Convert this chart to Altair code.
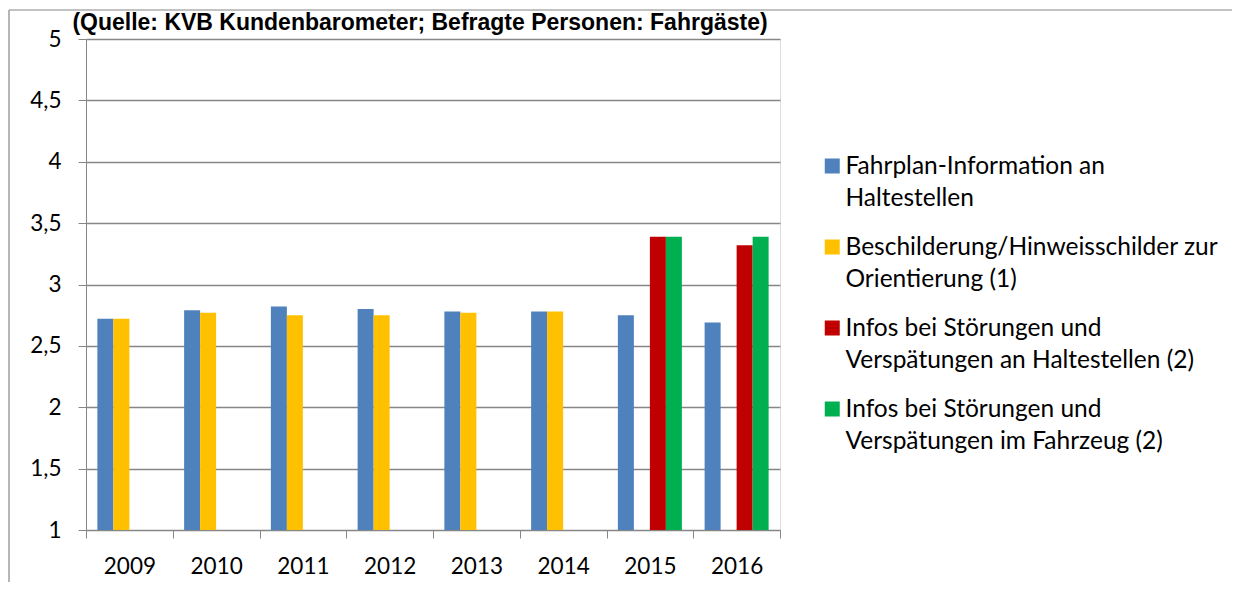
import altair as alt
import pandas as pd

YEARS = ["2009", "2010", "2011", "2012", "2013", "2014", "2015", "2016"]
SERIES = [
    "Fahrplan-Information an Haltestellen",
    "Beschilderung/Hinweisschilder zur Orientierung (1)",
    "Infos bei Störungen und Verspätungen an Haltestellen (2)",
    "Infos bei Störungen und Verspätungen im Fahrzeug (2)",
]
LEGEND_LINES = [
    ["Fahrplan-Information an", "Haltestellen"],
    ["Beschilderung/Hinweisschilder zur", "Orientierung (1)"],
    ["Infos bei Störungen und", "Verspätungen an Haltestellen (2)"],
    ["Infos bei Störungen und", "Verspätungen im Fahrzeug (2)"],
]
COLORS = ["#4F81BD", "#FFC000", "#C00000", "#00B050"]

FAHRPLAN = [2.72, 2.79, 2.82, 2.80, 2.78, 2.78, 2.75, 2.69]
BESCHILDERUNG = [2.72, 2.77, 2.75, 2.75, 2.77, 2.78, None, None]
STOERUNG_HALT = [None, None, None, None, None, None, 3.39, 3.32]
STOERUNG_FAHRZEUG = [None, None, None, None, None, None, 3.39, 3.39]

Y_TICKS = [1, 1.5, 2, 2.5, 3, 3.5, 4, 4.5, 5]
TITLE = "(Quelle: KVB Kundenbarometer; Befragte Personen: Fahrgäste)"

rows = []
for s, vals in zip(SERIES, [FAHRPLAN, BESCHILDERUNG, STOERUNG_HALT, STOERUNG_FAHRZEUG]):
    for y, v in zip(YEARS, vals):
        if v is not None:
            rows.append({"Jahr": y, "Reihe": s, "Wert": v})
df = pd.DataFrame(rows)

def q(t):
    return "'" + t.replace("'", "\\'") + "'"

label_expr = ""
for s, lines in zip(SERIES, LEGEND_LINES):
    label_expr += f"datum.label == {q(s)} ? [{', '.join(q(l) for l in lines)}] : "
label_expr += "datum.label"

GRID = "#868686"
FONT = "Lato"
FS = 22.5

bars = alt.Chart(df).mark_bar(strokeWidth=0).encode(
    x=alt.X(
        "Jahr:N",
        sort=YEARS,
        scale=alt.Scale(paddingInner=0, paddingOuter=0),
        axis=alt.Axis(
            title=None, labelAngle=0, tickBand="extent", tickSize=8,
            tickColor=GRID, domainColor=GRID, labelPadding=17,
            labelFont=FONT, labelFontSize=FS, labelColor="black", grid=False,
        ),
    ),
    xOffset=alt.XOffset("Reihe:N", sort=SERIES,
                        scale=alt.Scale(domain=SERIES, paddingInner=0, paddingOuter=0.71)),
    y=alt.Y(
        "Wert:Q",
        scale=alt.Scale(domain=[1, 5], zero=False, nice=False),
        axis=alt.Axis(
            title=None, values=Y_TICKS, grid=True, gridColor=GRID, gridWidth=1.3,
            tickSize=8, tickColor=GRID, domainColor=GRID, labelPadding=17,
            labelFont=FONT, labelFontSize=FS, labelColor="black",
            labelExpr="replace(format(datum.value, '~g'), '.', ',')",
        ),
    ),
    y2=alt.datum(1),
    color=alt.Color(
        "Reihe:N",
        scale=alt.Scale(domain=SERIES, range=COLORS),
        legend=alt.Legend(
            title=None, orient="none", legendX=734, legendY=123,
            labelExpr=label_expr, labelFont=FONT, labelFontSize=24.5,
            labelColor="black", labelLimit=500, labelOffset=1,
            labelBaseline="alphabetic",
            symbolType="M-1,-2.1H1V-0.1H-1Z", symbolSize=225,
            symbolStrokeWidth=0, symbolOpacity=1, rowPadding=24, padding=0,
        ),
    ),
)

one = pd.DataFrame({"k": [0]})
title = alt.Chart(one).mark_text(
    text=TITLE, align="center", baseline="top",
    font="Liberation Sans", fontWeight="bold", fontSize=23, color="black",
).encode(x=alt.value(334), y=alt.value(-27))

frame_left = alt.Chart(one).mark_rule(color=GRID, strokeWidth=1.2).encode(
    x=alt.value(-77), y=alt.value(-29), y2=alt.value(600)
)
frame_top = alt.Chart(one).mark_rule(color=GRID, strokeWidth=1.2).encode(
    x=alt.value(-77), x2=alt.value(1200), y=alt.value(-29)
)

chart = alt.layer(bars, frame_left, frame_top, title).properties(
    width=694, height=491,
    autosize=alt.AutoSizeParams(type="none"),
    padding={"left": 78, "top": 31, "right": 452, "bottom": 52},
).configure_view(stroke=None).configure(
    style={"guide-label": {"lineHeight": 32}}
)

chart.save("out.html", embed_options={"renderer": "svg", "actions": False})
